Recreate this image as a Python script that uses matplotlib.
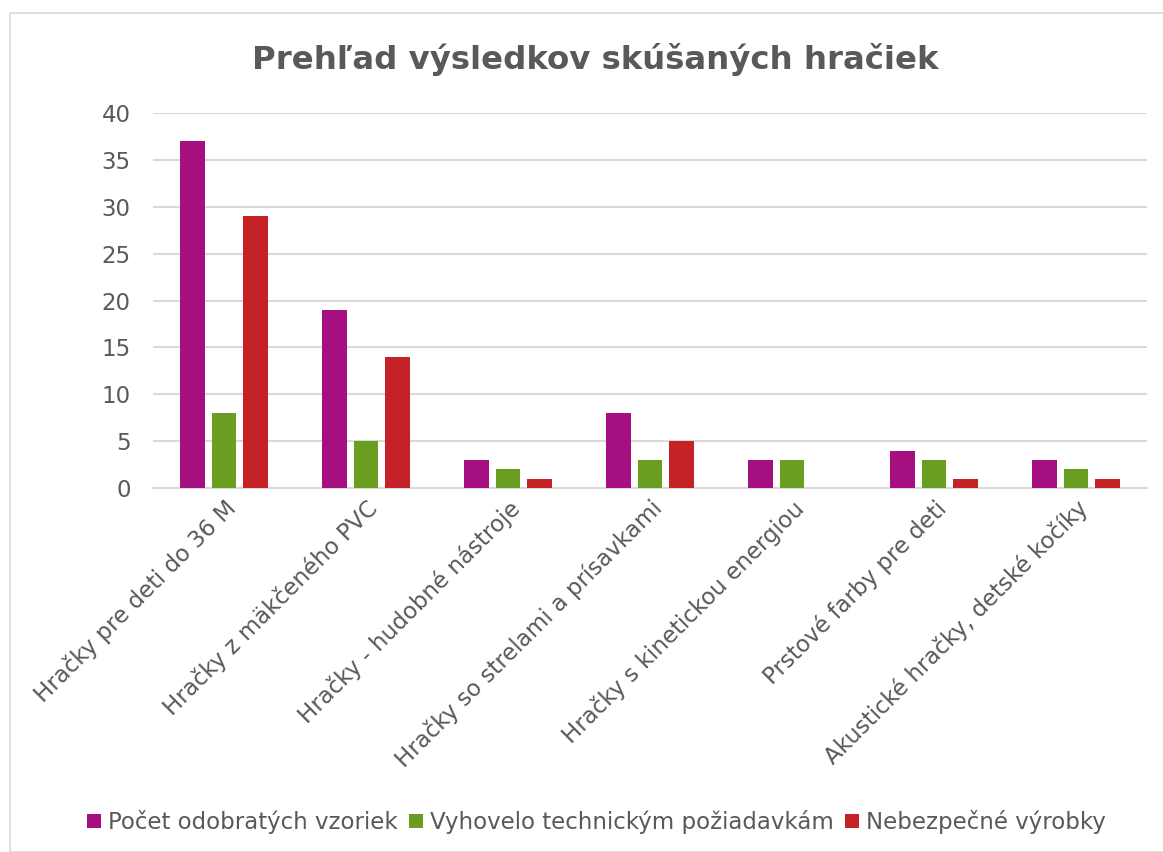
import matplotlib.pyplot as plt
import matplotlib.patches as patches
import numpy as np

categories = ['Hračky pre deti do 36 M', 'Hračky z mäkčeného PVC', 'Hračky - hudobné nástroje',
              'Hračky so strelami a prísavkami', 'Hračky s kinetickou energiou',
              'Prstové farby pre deti', 'Akustické hračky, detské kočíky']
odobrate = [37, 19, 3, 8, 3, 4, 3]
vyhovelo = [8, 5, 2, 3, 3, 3, 2]
nebezpecne = [29, 14, 1, 5, 0, 1, 1]
series_names = ['Počet odobratých vzoriek', 'Vyhovelo technickým požiadavkám', 'Nebezpečné výrobky']
colors = ['#A50F80', '#6A9E21', '#C42226']

plt.rcParams['font.family'] = ['DejaVu Sans']
text_color = '#595959'

fig = plt.figure(figsize=(11.63, 8.52), dpi=100)
fig.patches.append(patches.Rectangle((10 / 1163, 0.0), 1.1, 1 - 13 / 852, transform=fig.transFigure,
                                     fill=False, edgecolor='#D9D9D9', linewidth=1.2))
ax = fig.add_axes([153 / 1163, 1 - 488 / 852, (1147 - 153) / 1163, (488 - 113) / 852])

x = np.arange(len(categories))
w = 0.176
step = 0.222
for i, (vals, name, c) in enumerate(zip([odobrate, vyhovelo, nebezpecne], series_names, colors)):
    ax.bar(x + (i - 1) * step, vals, width=w, color=c, label=name, zorder=3)

ax.set_xlim(-0.5, len(categories) - 0.5)
ax.set_ylim(0, 40)
ax.set_yticks(range(0, 41, 5))
ax.grid(axis='y', color='#D9D9D9', linewidth=1.5, zorder=0)
for s in ['top', 'right', 'left']:
    ax.spines[s].set_visible(False)
ax.spines['bottom'].set_color('#D9D9D9')
ax.spines['bottom'].set_linewidth(1.5)
ax.tick_params(axis='both', length=0, colors=text_color, labelsize=16.5)
ax.tick_params(axis='y', pad=16)
ax.tick_params(axis='x', pad=6)
ax.set_xticks(x)
ax.set_xticklabels(categories, rotation=45, ha='right', rotation_mode='anchor')

fig.text(0.512, 1 - 60 / 852, 'Prehľad výsledkov skúšaných hračiek', ha='center', va='center',
         fontsize=23.3, fontweight='bold', color=text_color)

fig.legend(loc='center', bbox_to_anchor=(0.513, 1 - 822 / 852), ncol=3, frameon=False,
           fontsize=16.5, handlelength=0.6, handleheight=0.6, handletextpad=0.3, columnspacing=0.5,
           labelcolor=text_color)

fig.savefig('out.png', dpi=100)
